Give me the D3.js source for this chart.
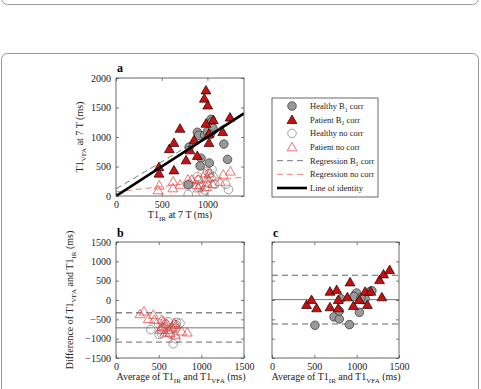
<!DOCTYPE html>
<html>
<head>
<meta charset="utf-8">
<script src="https://cdn.jsdelivr.net/npm/d3@7"></script>
<style>
  body { margin: 0; background: #fff; }
  svg { display: block; }
</style>
</head>
<body>
<div class="chart"></div>
<script>
// panel a: T1 IR (x) vs T1 VFA (y), values in ms
const healthyCorrA = [[790,190],[800,830],[890,1080],[905,1030],[930,640],[920,510],[970,1030],[1000,1090],
  [1020,560],[1040,1300],[1050,1260],[1060,1110],[1060,1150],[1180,880],[1220,620],[1030,1040]];
const patientCorrA = [[470,495],[470,385],[583,800],[634,905],[634,440],[700,1145],[766,610],[809,780],
  [853,950],[889,685],[984,1795],[966,1655],[1003,1540],[984,1230],[1064,1290],[1017,1060],[1017,905],
  [1167,1090],[1247,1335]];
const healthyNoA = [[790,25],[800,200],[890,330],[900,270],[920,150],[930,180],[950,60],[970,100],
  [1000,420],[1020,380],[1040,300],[1050,450],[1060,330],[1080,200],[1200,200],[1230,110]];
const patientNoA = [[473,183],[460,103],[625,250],[622,136],[701,197],[788,284],[829,281],[898,290],
  [975,385],[1020,386],[995,232],[898,135],[990,158],[1058,209],[1173,367],[1252,420],[1000,306],
  [886,192],[1138,246]];
// regression lines [intercept, slope]
const regCorr = [120, 0.92];
const regNo = [70, 0.18];

// panel b: no correction, average vs difference
const healthyNoB = [[408,-765],[500,-600],[610,-560],[585,-630],[535,-770],[555,-750],[505,-890],[535,-870],
  [710,-580],[700,-640],[670,-740],[750,-600],[695,-730],[640,-880],[700,-1000],[670,-1130]];
const patientNoB = [[328,-290],[281,-357],[437,-375],[379,-486],[449,-504],[536,-504],[555,-548],[594,-608],
  [680,-590],[703,-634],[613,-763],[516,-763],[574,-832],[633,-849],[770,-806],[836,-832],[653,-694],
  [539,-694],[692,-892]];
const limitsB = [-720, -330, -1090]; // mean, upper, lower

// panel c: B1 corrected, average vs difference
const healthyCorrC = [[507,-654],[732,-438],[795,-490],[795,-283],[815,33],[914,-637],[981,137],[1000,180],
  [1032,-320],[1040,30],[1072,10],[1100,30],[1160,222],[1180,240],[970,90],[1050,60]];
const patientCorrC = [[408,-121],[467,8],[527,-206],[685,-180],[685,222],[764,265],[783,8],[783,-206],
  [890,77],[922,464],[961,-147],[1032,8],[1100,222],[1127,-121],[1167,222],[1270,523],[1298,77],
  [1317,670],[1389,781]];
const limitsC = [10, 640, -620];

const ticksA_x = [0, 500, 1000];
const ticksA_y = [0, 500, 1000, 1500, 2000];
const ticksB_x = [0, 500, 1000, 1500];
const ticksB_y = [-1500, -1000, -500, 0, 500, 1000, 1500];

const legendItems = ["Healthy B1 corr", "Patient B1 corr", "Healthy no corr", "Patient no corr",
  "Regression B1 corr", "Regression no corr", "Line of identity"];

const serif = '"Liberation Serif", "Times New Roman", Times, serif';
const svg = d3.select(".chart").append("svg").attr("width", 481).attr("height", 389)
  .attr("font-family", serif);

// page frames
svg.append("rect").attr("x", 1.5).attr("y", -100).attr("width", 477).attr("height", 104.5)
   .attr("rx", 6).attr("fill", "none").attr("stroke", "#999");
svg.append("rect").attr("x", 1.5).attr("y", 53.5).attr("width", 477).attr("height", 400)
   .attr("rx", 6).attr("fill", "none").attr("stroke", "#999");

// rich text helper, parts: [text, isSub]
function rich(g, parts, size) {
  g.attr("font-family", serif).attr("font-size", size);
  let back = 0;
  parts.forEach(([t, sub]) => {
    const s = g.append("tspan").text(t);
    if (sub) {
      s.attr("font-size", size * 0.7).attr("dy", size * 0.3 - back);
      back = size * 0.3;
    } else {
      s.attr("dy", -back);
      back = 0;
    }
  });
}

function subParts(label) {
  // "B1" -> B + sub 1
  const m = label.match(/^(.*B)1(.*)$/);
  return m ? [[m[1], false], ["1", true], [m[2], false]] : [[label, false]];
}

function panel(x, y, xt, yt, showYLabels) {
  const g = svg.append("g");
  const ax = g.append("g").attr("transform", `translate(0,${y.range()[0]})`)
    .call(d3.axisBottom(x).tickValues(xt).tickSizeInner(-3).tickSizeOuter(0).tickPadding(5)
      .tickFormat(d3.format("d")));
  const axT = g.append("g").attr("transform", `translate(0,${y.range()[1]})`)
    .call(d3.axisTop(x).tickValues(xt).tickSizeInner(-3).tickSizeOuter(0).tickFormat(""));
  const ay = g.append("g").attr("transform", `translate(${x.range()[0]},0)`)
    .call(d3.axisLeft(y).tickValues(yt).tickSizeInner(-3).tickSizeOuter(0).tickPadding(5)
      .tickFormat(showYLabels ? (d => String(d).replace("-", "\u2212")) : ""));
  const ayR = g.append("g").attr("transform", `translate(${x.range()[1]},0)`)
    .call(d3.axisRight(y).tickValues(yt).tickSizeInner(-3).tickSizeOuter(0).tickFormat(""));
  [ax, axT, ay, ayR].forEach(a => {
    a.attr("font-family", serif).attr("font-size", 10);
    a.select(".domain").remove();
    a.selectAll("line").attr("stroke", "#444").attr("stroke-width", 0.7);
    a.selectAll("text").attr("fill", "#222");
  });
  return g;
}

function frame(g, x, y) {
  g.append("rect").attr("x", x.range()[0]).attr("y", y.range()[1])
   .attr("width", x.range()[1] - x.range()[0]).attr("height", y.range()[0] - y.range()[1])
   .attr("fill", "none").attr("stroke", "#444").attr("stroke-width", 0.8);
}

const tri = d3.symbol(d3.symbolTriangle, 42);

function circles(g, data, x, y, filled) {
  g.append("g").selectAll("circle").data(data).join("circle")
   .attr("cx", d => x(d[0])).attr("cy", d => y(d[1])).attr("r", 4.3)
   .attr("fill", filled ? "#999" : "none").attr("stroke", filled ? "#333" : "#777")
   .attr("stroke-width", 0.7);
}
function triangles(g, data, x, y, filled) {
  g.append("g").selectAll("path").data(data).join("path")
   .attr("d", tri).attr("transform", d => `translate(${x(d[0])},${y(d[1]) + 1})`)
   .attr("fill", filled ? "#c81010" : "none").attr("stroke", filled ? "#200" : "#e83a3a")
   .attr("stroke-width", 0.7);
}
function hline(g, x, y, v, color, width, dash) {
  g.append("line").attr("x1", x.range()[0]).attr("x2", x.range()[1])
   .attr("y1", y(v)).attr("y2", y(v)).attr("stroke", color).attr("stroke-width", width)
   .attr("stroke-dasharray", dash);
}

// ---- panel a
const xa = d3.scaleLinear().domain([0, 1400]).range([116, 244]);
const ya = d3.scaleLinear().domain([0, 2000]).range([196, 78]);
const ga = panel(xa, ya, ticksA_x, ticksA_y, true);
svg.append("clipPath").attr("id", "clipA").append("rect")
  .attr("x", 116).attr("y", 78).attr("width", 128).attr("height", 118);
const pa = ga.append("g").attr("clip-path", "url(#clipA)");
circles(pa, healthyNoA, xa, ya, false);
triangles(pa, patientNoA, xa, ya, false);
circles(pa, healthyCorrA, xa, ya, true);
triangles(pa, patientCorrA, xa, ya, true);
pa.append("line").attr("x1", xa(0)).attr("x2", xa(1400))
  .attr("y1", ya(regNo[0])).attr("y2", ya(regNo[0] + regNo[1] * 1400))
  .attr("stroke", "#e87070").attr("stroke-width", 0.9).attr("stroke-dasharray", "6,4");
pa.append("line").attr("x1", xa(0)).attr("x2", xa(1400))
  .attr("y1", ya(regCorr[0])).attr("y2", ya(regCorr[0] + regCorr[1] * 1400))
  .attr("stroke", "#555").attr("stroke-width", 0.8).attr("stroke-dasharray", "6,4");
pa.append("line").attr("x1", xa(0)).attr("x2", xa(1400))
  .attr("y1", ya(0)).attr("y2", ya(1400))
  .attr("stroke", "#000").attr("stroke-width", 2.6);
frame(ga, xa, ya);

// ---- panel b
const xb = d3.scaleLinear().domain([0, 1500]).range([116, 244]);
const yb = d3.scaleLinear().domain([-1500, 1500]).range([358, 242]);
const gb = panel(xb, yb, ticksB_x, ticksB_y, true);
hline(gb, xb, yb, limitsB[1], "#888", 1.3, "6,4");
hline(gb, xb, yb, limitsB[2], "#888", 1.3, "6,4");
hline(gb, xb, yb, limitsB[0], "#555", 0.8, null);
circles(gb, healthyNoB, xb, yb, false);
triangles(gb, patientNoB, xb, yb, false);
frame(gb, xb, yb);

// ---- panel c
const xc = d3.scaleLinear().domain([0, 1500]).range([272, 399]);
const yc = d3.scaleLinear().domain([-1500, 1500]).range([358, 242]);
const gc = panel(xc, yc, ticksB_x, ticksB_y, false);
hline(gc, xc, yc, limitsC[1], "#666", 1, "6,4");
hline(gc, xc, yc, limitsC[2], "#666", 1, "6,4");
hline(gc, xc, yc, limitsC[0], "#555", 0.8, null);
circles(gc, healthyCorrC, xc, yc, true);
triangles(gc, patientCorrC, xc, yc, true);
frame(gc, xc, yc);

// ---- panel letters
[["a", 117, 72], ["b", 117, 237], ["c", 273, 237]].forEach(([t, x, y]) => {
  svg.append("text").attr("x", x).attr("y", y).attr("font-family", serif)
    .attr("font-size", 12).attr("font-weight", "bold").text(t);
});

// ---- axis titles
const fs = 10;
rich(svg.append("text").attr("x", 180).attr("y", 218).attr("text-anchor", "middle").attr("fill", "#222"),
  [["T1", false], ["IR", true], [" at 7 T (ms)", false]], fs);
rich(svg.append("text").attr("transform", "translate(83,137) rotate(-90)").attr("text-anchor", "middle").attr("fill", "#222"),
  [["T1", false], ["VFA", true], [" at 7 T (ms)", false]], fs);
rich(svg.append("text").attr("transform", "translate(73,300) rotate(-90)").attr("text-anchor", "middle").attr("fill", "#222"),
  [["Difference of T1", false], ["VFA", true], [" and T1", false], ["IR", true], [" (ms)", false]], fs);
[181, 336].forEach(cx => {
  rich(svg.append("text").attr("x", cx).attr("y", 380).attr("text-anchor", "middle").attr("fill", "#222"),
    [["Average of T1", false], ["IR", true], [" and T1", false], ["VFA", true], [" (ms)", false]], fs);
});

// ---- legend
const lg = svg.append("g");
lg.append("rect").attr("x", 272).attr("y", 98).attr("width", 106).attr("height", 99)
  .attr("fill", "#fff").attr("stroke", "#444").attr("stroke-width", 0.8);
const ly = d3.scalePoint().domain(legendItems).range([106, 188]);
const sx = 292;
lg.append("circle").attr("cx", sx).attr("cy", ly(legendItems[0])).attr("r", 4.3)
  .attr("fill", "#999").attr("stroke", "#333").attr("stroke-width", 0.7);
lg.append("path").attr("d", tri).attr("transform", `translate(${sx},${ly(legendItems[1]) + 1})`)
  .attr("fill", "#c81010").attr("stroke", "#200").attr("stroke-width", 0.7);
lg.append("circle").attr("cx", sx).attr("cy", ly(legendItems[2])).attr("r", 4.3)
  .attr("fill", "none").attr("stroke", "#777").attr("stroke-width", 0.7);
lg.append("path").attr("d", tri).attr("transform", `translate(${sx},${ly(legendItems[3]) + 1})`)
  .attr("fill", "none").attr("stroke", "#e83a3a").attr("stroke-width", 0.7);
[[legendItems[4], "#555", 0.8, "6,4"], [legendItems[5], "#e87070", 0.9, "6,4"], [legendItems[6], "#000", 2.6, null]]
  .forEach(([k, c, w, dash]) => {
    lg.append("line").attr("x1", 277).attr("x2", 307).attr("y1", ly(k)).attr("y2", ly(k))
      .attr("stroke", c).attr("stroke-width", w).attr("stroke-dasharray", dash);
  });
legendItems.forEach(k => {
  rich(lg.append("text").attr("x", 310).attr("y", ly(k) + 3).attr("fill", "#222"), subParts(k), 8.5);
});
</script>
</body>
</html>
